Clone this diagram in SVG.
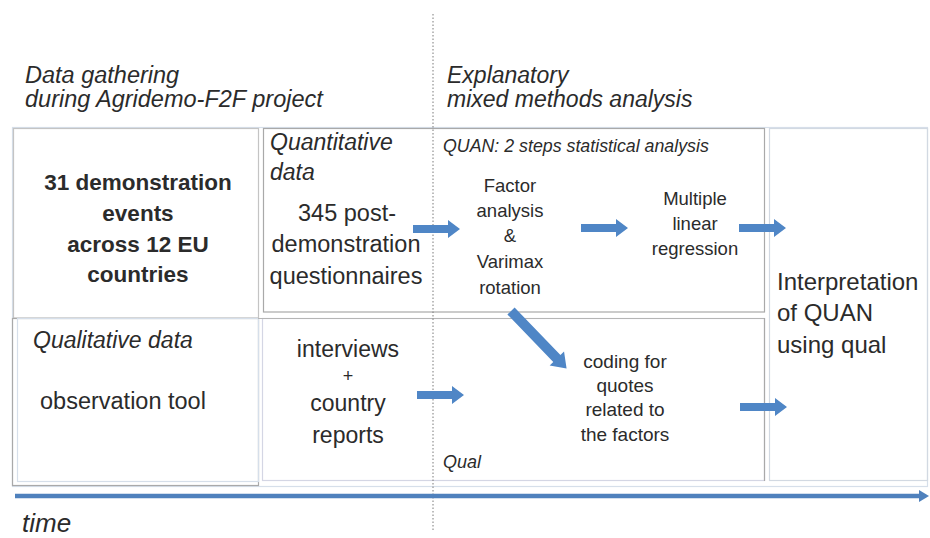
<svg xmlns="http://www.w3.org/2000/svg" xmlns:xlink="http://www.w3.org/1999/xlink" width="930" height="538" viewBox="0 0 930 538">
<style>
text{font-family:"Liberation Sans",Arial,sans-serif;fill:#2b2b2b}
.it{font-style:italic}
.b{font-weight:bold}
.c{text-anchor:middle}
.box{fill:none;stroke:#a9a9a9;stroke-width:1.2}
.lite{fill:none;stroke:#d6dfea;stroke-width:1.2}
.arr{fill:#4f86c6}
</style>
<defs>
<path id="ha" d="M0,-4 H35 V-9 L47,0 L35,9 V4 H0 Z"/>
</defs>
<rect width="930" height="538" fill="#fff"/>
<g id="frame">
<rect class="lite" x="12.5" y="127.5" width="915" height="359"/>
</g>
<g id="box-events">
<rect class="box" x="13.5" y="128.5" width="245" height="189.5" style="stroke:#c4c4c4"/>
<text class="b c" x="138" y="190" font-size="22.5">31 demonstration</text>
<text class="b c" x="138" y="221" font-size="22.5">events</text>
<text class="b c" x="138" y="252" font-size="22.5">across 12 EU</text>
<text class="b c" x="138" y="282" font-size="22.5">countries</text>
</g>
<g id="box-qualitative">
<rect class="box" x="12.5" y="318.5" width="246" height="167"/>
<rect class="lite" x="17.5" y="318.5" width="241" height="163"/>
<text class="it" x="33" y="348" font-size="23">Qualitative data</text>
<text x="40" y="409" font-size="23.5">observation tool</text>
</g>
<g id="box-quantitative">
<rect class="box" x="263.5" y="128.5" width="501" height="183.5"/>
<text class="it" x="270" y="150" font-size="23">Quantitative</text>
<text class="it" x="270" y="180" font-size="23">data</text>
<text class="c" x="347" y="221" font-size="23.5">345 post-</text>
<text class="c" x="346" y="252" font-size="23.5">demonstration</text>
<text class="c" x="346" y="284" font-size="23.5">questionnaires</text>
<text class="it" x="443" y="152" font-size="17.8">QUAN: 2 steps statistical analysis</text>
<text class="c" x="510" y="192" font-size="18.5">Factor</text>
<text class="c" x="510" y="217" font-size="18.5">analysis</text>
<text class="c" x="510" y="242" font-size="18.5">&amp;</text>
<text class="c" x="510" y="268" font-size="18.5">Varimax</text>
<text class="c" x="510" y="294" font-size="18.5">rotation</text>
<text class="c" x="695" y="205" font-size="18.5">Multiple</text>
<text class="c" x="695" y="230" font-size="18.5">linear</text>
<text class="c" x="695" y="255" font-size="18.5">regression</text>
</g>
<g id="box-qual">
<rect class="lite" x="262.5" y="318.5" width="502" height="162" style="stroke:#d4d6e4"/>
<line x1="258" y1="318.5" x2="765" y2="318.5" stroke="#b5b5b5" stroke-width="1.2"/>
<line x1="764.5" y1="318" x2="764.5" y2="481" stroke="#a9a9a9" stroke-width="1.2"/>
<text class="c" x="348" y="357" font-size="23">interviews</text>
<text class="c" x="348" y="382" font-size="18">+</text>
<text class="c" x="348" y="411" font-size="23">country</text>
<text class="c" x="348" y="443" font-size="23">reports</text>
<text class="c" x="625" y="368" font-size="19">coding for</text>
<text class="c" x="625" y="392" font-size="19">quotes</text>
<text class="c" x="625" y="416" font-size="19">related to</text>
<text class="c" x="625" y="441" font-size="19">the factors</text>
<text class="it" x="443" y="468" font-size="18">Qual</text>
</g>
<g id="box-interpretation">
<rect class="lite" x="769.5" y="128.5" width="158" height="352" style="stroke:#d2d9e2"/>
<text x="777" y="290" font-size="24">Interpretation</text>
<text x="777" y="321" font-size="24">of QUAN</text>
<text x="777" y="353" font-size="24">using qual</text>
</g>
<g id="headings">
<text class="it" x="25" y="83" font-size="23.5">Data gathering</text>
<text class="it" x="25" y="107" font-size="23.5">during Agridemo-F2F project</text>
<text class="it" x="447" y="83" font-size="23">Explanatory</text>
<text class="it" x="447" y="107" font-size="23">mixed methods analysis</text>
<text class="it" x="22" y="532" font-size="26">time</text>
</g>
<g id="connectors">
<line x1="433" y1="14" x2="433" y2="530" stroke="#7a7a7a" stroke-width="1" stroke-dasharray="1.5,2"/>
<use xlink:href="#ha" class="arr" x="413" y="229"/>
<use xlink:href="#ha" class="arr" x="581" y="228"/>
<use xlink:href="#ha" class="arr" x="739" y="228"/>
<use xlink:href="#ha" class="arr" x="417" y="395"/>
<use xlink:href="#ha" class="arr" x="740" y="407"/>
<path class="arr" d="M0,-5 H66 V-10 L80,0 L66,10 V5 H0 Z" transform="translate(511,311) rotate(46)"/>
<line x1="15" y1="496" x2="921" y2="496" stroke="#4f81bd" stroke-width="4.5"/>
<path d="M919,490 L929,496 L919,502 Z" fill="#4f81bd"/>
</g>
</svg>
